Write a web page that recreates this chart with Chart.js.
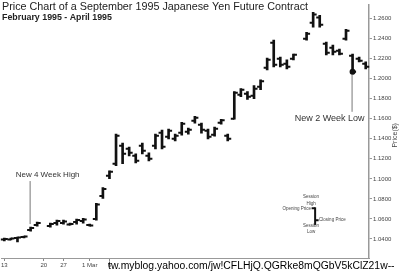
<!DOCTYPE html>
<html lang="en">
<head>
<meta charset="UTF-8">
<title>Japanese Yen Future Contract</title>
<script src="https://cdn.jsdelivr.net/npm/chart.js"></script>
<style>
    body { margin: 0; background: #fff; }
    .wrap { position: relative; width: 400px; height: 272px; }
</style>
</head>
<body>
<div class="wrap"><canvas id="yenChart"></canvas></div>
<script>
// trading days, Feb 13 - Apr 1995 (only a few are labelled)
const days = [
    '13', '', '', '', '', '', '20', '', '', '27', '', '', '', '1 Mar', '', '', '6', '', '', '',
    '', '', '', '', '', '', '', '', '', '', '', '', '', '', '', '', '', '', '', '',
    '', '', '', '', '', '', '', '', '', '', '', '', '', '', '', ''
];
const highs = [
    1.0410, 1.0410, 1.0420, 1.0430, 1.0519, 1.0568, null, 1.0558, 1.0588, 1.0588,
    1.0558, 1.0598, 1.0607, 1.0548, 1.0756, 1.0914, 1.1081, 1.1447, 1.1358, 1.1318,
    1.1249, 1.1358, 1.1259, 1.1447, 1.1486, 1.1496, 1.1447, 1.1565, 1.1506, 1.1625,
    1.1556, 1.1496, 1.1516, 1.1595, 1.1447, 1.1872, 1.1901, 1.1872, 1.1931, 1.1990,
    1.2207, 1.2385, 1.2217, 1.2188, 1.2247, null, 1.2464, 1.2662, 1.2632, 1.2365,
    1.2336, 1.2296, 1.2494, 1.2247, 1.2217, 1.2168
];
const lows = [
    1.0380, 1.0390, 1.0370, 1.0410, 1.0479, 1.0528, null, 1.0518, 1.0538, 1.0548,
    1.0538, 1.0548, 1.0558, 1.0528, 1.0588, 1.0805, 1.1002, 1.1131, 1.1151, 1.1230,
    1.1160, 1.1249, 1.1180, 1.1299, 1.1299, 1.1398, 1.1378, 1.1437, 1.1447, 1.1556,
    1.1457, 1.1398, 1.1427, 1.1546, 1.1378, 1.1595, 1.1822, 1.1793, 1.1802, 1.1891,
    1.2089, 1.2119, 1.2119, 1.2099, 1.2188, null, 1.2385, 1.2514, 1.2514, 1.2237,
    1.2237, 1.2237, 1.2385, 1.2049, 1.2168, 1.2099
];
const opens = [
    1.0395, 1.0395, 1.0410, 1.0420, 1.0490, 1.0540, null, 1.0530, 1.0560, 1.0560,
    1.0545, 1.0570, 1.0580, 1.0540, 1.0600, 1.0830, 1.1030, 1.1150, 1.1330, 1.1300,
    1.1230, 1.1330, 1.1230, 1.1330, 1.1460, 1.1420, 1.1400, 1.1460, 1.1470, 1.1580,
    1.1540, 1.1480, 1.1440, 1.1560, 1.1430, 1.1600, 1.1840, 1.1850, 1.1830, 1.1920,
    1.2110, 1.2360, 1.2200, 1.2150, 1.2200, null, 1.2400, 1.2560, 1.2610, 1.2350,
    1.2310, 1.2280, 1.2400, 1.2230, 1.2200, 1.2150
];
const closes = [
    1.0400, 1.0405, 1.0415, 1.0425, 1.0510, 1.0560, null, 1.0550, 1.0580, 1.0575,
    1.0550, 1.0590, 1.0595, 1.0535, 1.0745, 1.0900, 1.1070, 1.1430, 1.1250, 1.1260,
    1.1180, 1.1280, 1.1200, 1.1430, 1.1320, 1.1480, 1.1430, 1.1550, 1.1490, 1.1610,
    1.1490, 1.1420, 1.1500, 1.1585, 1.1400, 1.1860, 1.1890, 1.1820, 1.1900, 1.1975,
    1.2190, 1.2140, 1.2140, 1.2120, 1.2240, null, 1.2450, 1.2640, 1.2540, 1.2260,
    1.2270, 1.2250, 1.2480, 1.2069, 1.2180, 1.2120
];
// sample bar for the key (category position, open, high, low, close)
const keyBar = [47.3, 1.0706, 1.0716, 1.0538, 1.0588];
const highMarkDay = 4;   // New 4 Week High
const lowMarkDay = 53;   // New 2 Week Low

const FONT = "'Liberation Sans', Arial, sans-serif";

function drawTicks(ctx, x, y, idx, o, c) {
    const px = x.getPixelForValue(idx);
    const po = y.getPixelForValue(o), pc = y.getPixelForValue(c);
    ctx.beginPath();
    ctx.moveTo(px - 3.5, po); ctx.lineTo(px, po);
    ctx.moveTo(px, pc); ctx.lineTo(px + 3.5, pc);
    ctx.stroke();
}

// draw text squeezed to a given width
function fitText(ctx, text, x, y, width, weight) {
    ctx.font = weight + ' 10px ' + FONT;
    const size = 10 * width / ctx.measureText(text).width;
    ctx.font = weight + ' ' + size.toFixed(2) + 'px ' + FONT;
    ctx.fillText(text, x, y);
}

const ohlcPlugin = {
    id: 'ohlc',
    afterDatasetsDraw(chart) {
        const { ctx, scales: { x, y } } = chart;
        ctx.save();
        ctx.strokeStyle = '#111';
        ctx.lineWidth = 2;
        opens.forEach((o, i) => {
            if (o == null) return;
            drawTicks(ctx, x, y, i, o, closes[i]);
        });
        // closing dot on the 2 week low bar
        ctx.fillStyle = '#111';
        ctx.beginPath();
        ctx.arc(x.getPixelForValue(lowMarkDay), y.getPixelForValue(closes[lowMarkDay]), 3, 0, Math.PI * 2);
        ctx.fill();
        // key bar
        const kx = x.getPixelForValue(keyBar[0]);
        ctx.beginPath();
        ctx.moveTo(kx, y.getPixelForValue(keyBar[2]));
        ctx.lineTo(kx, y.getPixelForValue(keyBar[3]));
        ctx.stroke();
        drawTicks(ctx, x, y, keyBar[0], keyBar[1], keyBar[4]);
        ctx.restore();
    },
    afterDraw(chart) {
        const { ctx, scales: { x, y } } = chart;
        ctx.save();
        // title
        ctx.fillStyle = '#222';
        ctx.textBaseline = 'alphabetic';
        ctx.textAlign = 'left';
        fitText(ctx, 'Price Chart of a September 1995 Japanese Yen Future Contract', 2, 10, 306, 'normal');
        fitText(ctx, 'February 1995 - April 1995', 2, 20, 110, 'bold');

        // annotations
        ctx.strokeStyle = '#777';
        ctx.lineWidth = 1;
        ctx.fillStyle = '#333';
        ctx.font = '8px ' + FONT;
        ctx.textAlign = 'center';
        ctx.textBaseline = 'middle';
        const hx = x.getPixelForValue(highMarkDay);
        const hy = y.getPixelForValue(highs[highMarkDay]);
        ctx.fillText('New 4 Week High', hx + 17, hy - 52);
        ctx.beginPath();
        ctx.moveTo(hx - 0.5, hy - 46); ctx.lineTo(hx - 0.5, hy - 3);
        ctx.stroke();

        const lx = x.getPixelForValue(lowMarkDay);
        const ly = y.getPixelForValue(lows[lowMarkDay]);
        ctx.font = '9px ' + FONT;
        ctx.fillText('New 2 Week Low', lx - 23, ly + 45);
        ctx.beginPath();
        ctx.moveTo(lx - 0.5, ly + 1); ctx.lineTo(lx - 0.5, ly + 38);
        ctx.stroke();

        // key labels
        const kx = x.getPixelForValue(keyBar[0]);
        const kh = y.getPixelForValue(keyBar[2]);
        const kl = y.getPixelForValue(keyBar[3]);
        ctx.font = '4.5px ' + FONT;
        ctx.fillStyle = '#444';
        ctx.fillText('Session', kx - 4, kh - 11);
        ctx.fillText('High', kx - 4, kh - 4);
        ctx.fillText('Session', kx - 4, kl + 1);
        ctx.fillText('Low', kx - 4, kl + 7);
        ctx.textAlign = 'right';
        ctx.fillText('Opening Price', kx - 4, y.getPixelForValue(keyBar[1]));
        ctx.textAlign = 'left';
        ctx.fillText('Closing Price', kx + 4, y.getPixelForValue(keyBar[4]));

        // axis title
        ctx.save();
        ctx.translate(395, (chart.chartArea.top + chart.chartArea.bottom) / 2 + 4);
        ctx.rotate(-Math.PI / 2);
        ctx.textAlign = 'center';
        ctx.font = '7px ' + FONT;
        ctx.fillStyle = '#444';
        ctx.fillText('Price($)', 0, 0);
        ctx.restore();

        // blog watermark
        ctx.fillStyle = '#000';
        ctx.textAlign = 'left';
        ctx.textBaseline = 'alphabetic';
        fitText(ctx, 'tw.myblog.yahoo.com/jw!CFLHjQ.QGRke8mQGbV5kClZ21w--', 108, 269, 287, 'normal');
        ctx.restore();
    }
};

new Chart(document.getElementById('yenChart'), {
    type: 'bar',
    data: {
        labels: days,
        datasets: [{
            data: highs.map((h, i) => h == null ? null : [lows[i], h]),
            backgroundColor: '#111',
            barThickness: 2
        }]
    },
    options: {
        responsive: true,
        maintainAspectRatio: false,
        animation: false,
        layout: { padding: { top: 2, left: 0, right: 0, bottom: 0 } },
        plugins: { legend: { display: false }, tooltip: { enabled: false } },
        scales: {
            x: {
                offset: true,
                afterFit(scale) { scale.height = 14; },
                grid: {
                    offset: false,
                    drawOnChartArea: false,
                    tickLength: 3,
                    color: ctx => (ctx.tick && ctx.tick.label) ? '#888' : 'rgba(0,0,0,0)'
                },
                border: { color: '#999', width: 1 },
                ticks: {
                    autoSkip: false,
                    maxRotation: 0,
                    padding: 1,
                    color: '#444',
                    font: { family: FONT, size: 6 }
                }
            },
            y: {
                position: 'right',
                min: 1.021,
                max: 1.274,
                afterFit(scale) { scale.width = 31; },
                grid: { drawOnChartArea: false, tickLength: 3, color: '#999' },
                border: { color: '#999', width: 1.5 },
                ticks: {
                    stepSize: 0.02,
                    includeBounds: false,
                    padding: 1,
                    color: '#444',
                    font: { family: FONT, size: 6 },
                    callback: v => v.toFixed(4)
                }
            }
        }
    },
    plugins: [ohlcPlugin]
});
</script>
</body>
</html>
